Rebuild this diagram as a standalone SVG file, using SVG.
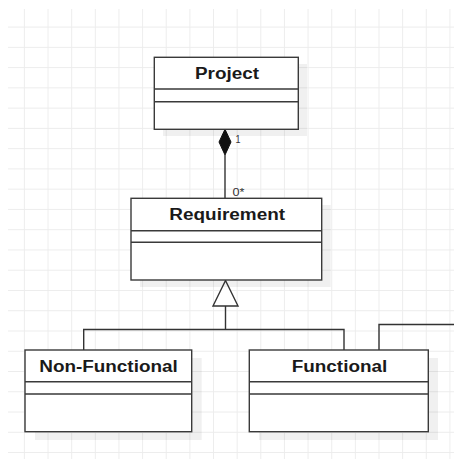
<svg xmlns="http://www.w3.org/2000/svg" width="454" height="459" viewBox="0 0 454 459">
<defs>
<pattern id="grid" patternUnits="userSpaceOnUse" x="23.9" y="26.6" width="23.64" height="20.26">
<path d="M0 0V20.26M0 0H23.64" fill="none" stroke="#ececec" stroke-width="1.8"/>
</pattern>
<style>
.box{fill:#fff;stroke:#3a3a3a;stroke-width:1.4}
.sh{fill:#000;fill-opacity:0.06}
.div{stroke:#3a3a3a;stroke-width:1.4}
.t{font-family:"Liberation Sans",Arial,sans-serif;font-weight:bold;font-size:16px;fill:#1a1a1a;text-anchor:middle}
.lbl{font-family:"Liberation Sans",Arial,sans-serif;font-size:10.5px;fill:#333}
.c{fill:none;stroke:#333;stroke-width:1.4}
</style>
</defs>
<rect width="454" height="459" fill="#fff"/>
<rect x="8" y="9" width="446" height="450" fill="url(#grid)"/>

<g id="connectors">
<path class="c" d="M225 155V198.5"/>
<path d="M225 129.3L231 142L225 155L219 142Z" fill="#111" stroke="#111" stroke-width="1"/>
<text class="lbl" x="235.5" y="143" textLength="5" lengthAdjust="spacingAndGlyphs">1</text>
<text class="lbl" x="232.5" y="195.5" textLength="12" lengthAdjust="spacingAndGlyphs">0*</text>
<path class="c" d="M225.5 306V329.5M83.7 350V329.5H344V350"/>
<path d="M225.5 280.5L238 306H213Z" fill="#fff" stroke="#333" stroke-width="1.4"/>
<path class="c" d="M379 350V324.5H455"/>
</g>

<g id="project">
<rect class="sh" x="163" y="64" width="144" height="72"/>
<rect class="box" x="154.3" y="57.3" width="144" height="72"/>
<path class="div" d="M154.3 89H298.3M154.3 101.7H298.3"/>
<text class="t" x="227" y="79.3" textLength="64" lengthAdjust="spacingAndGlyphs">Project</text>
</g>

<g id="requirement">
<rect class="sh" x="140" y="205" width="190.7" height="82"/>
<rect class="box" x="131" y="198.3" width="190.7" height="81.7"/>
<path class="div" d="M131 230.7H321.7M131 242.3H321.7"/>
<text class="t" x="227.2" y="220" textLength="115.7" lengthAdjust="spacingAndGlyphs">Requirement</text>
</g>

<g id="non-functional">
<rect class="sh" x="35" y="358" width="166.7" height="82"/>
<rect class="box" x="25" y="350" width="166.7" height="81.7"/>
<path class="div" d="M25 381.7H191.7M25 394H191.7"/>
<text class="t" x="108.5" y="371.7" textLength="138.4" lengthAdjust="spacingAndGlyphs">Non-Functional</text>
</g>

<g id="functional">
<rect class="sh" x="259" y="358" width="179" height="82"/>
<rect class="box" x="249.3" y="350" width="179" height="81.7"/>
<path class="div" d="M249.3 381.7H428.3M249.3 394H428.3"/>
<text class="t" x="339.5" y="371.7" textLength="95.6" lengthAdjust="spacingAndGlyphs">Functional</text>
</g>
</svg>
